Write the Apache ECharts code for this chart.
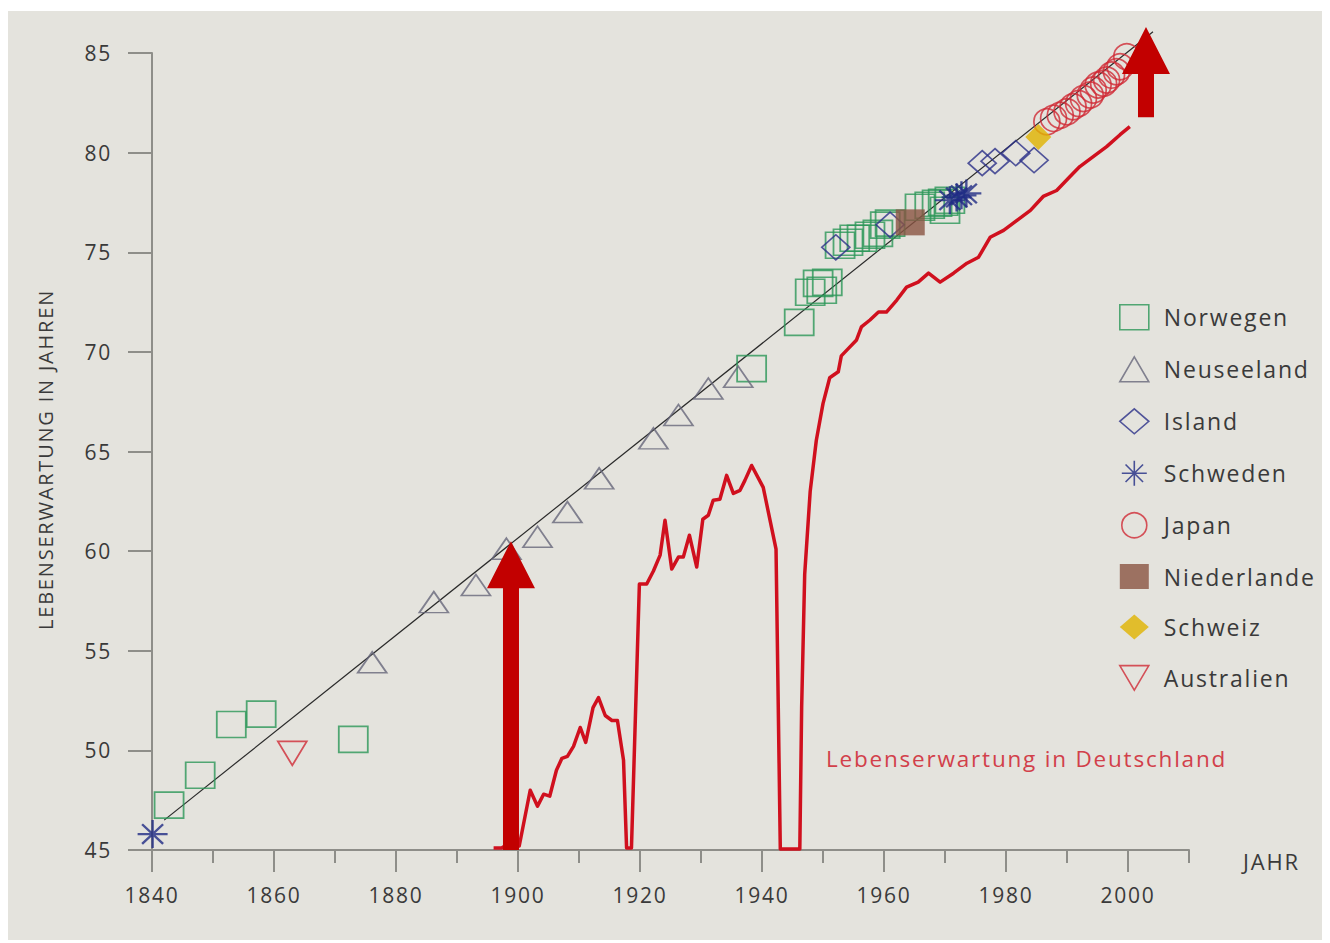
<!DOCTYPE html>
<html>
<head>
<meta charset="utf-8">
<script src="https://cdn.jsdelivr.net/npm/echarts@6/dist/echarts.min.js"></script>
<style>
  html, body { margin: 0; padding: 0; background: #ffffff; }
  #panel { position: absolute; left: 8px; top: 11px; width: 1314px; height: 929px; background: #e4e3dd; }
  #chart { position: absolute; left: 0; top: 0; width: 1330px; height: 943px; }
  #chart svg text { letter-spacing: 1.8px; }
</style>
</head>
<body>
<div id="panel"></div>
<div id="chart"></div>
<script>
// ---- Axis ticks / labels ----
const xMajorTicks = [1840, 1860, 1880, 1900, 1920, 1940, 1960, 1980, 2000];
const xMinorTicks = [1850, 1870, 1890, 1910, 1930, 1950, 1970, 1990, 2010];
const yTicks = [45, 50, 55, 60, 65, 70, 75, 80, 85];

// ---- Country record points (year, life expectancy) ----
const norwegenYears  = [1842.8, 1847.9, 1853.0, 1857.9, 1873.0, 1938.3, 1946.1, 1947.9, 1949.2, 1949.8, 1950.7, 1952.8, 1954.1, 1955.2, 1956.4, 1957.7, 1959.0, 1960.2, 1961.0, 1965.9, 1967.5, 1968.7, 1969.7, 1970.0, 1970.8];
const norwegenValues = [47.25, 48.75, 51.3, 51.82, 50.55, 69.16, 71.48, 72.99, 73.44, 73.09, 73.49, 75.35, 75.5, 75.7, 75.7, 75.85, 75.95, 76.36, 76.46, 77.26, 77.36, 77.46, 77.51, 77.11, 77.61];

const neuseelandYears  = [1876.1, 1886.2, 1893.1, 1898.1, 1903.2, 1908.1, 1913.3, 1922.2, 1926.3, 1931.2, 1936.1];
const neuseelandValues = [54.42, 57.44, 58.3, 60.12, 60.72, 61.96, 63.65, 65.66, 66.83, 68.16, 68.75];

const islandYears  = [1952.1, 1961.0, 1976.1, 1978.2, 1981.6, 1984.6];
const islandValues = [75.25, 76.38, 79.47, 79.57, 79.97, 79.62];

const schwedenYears  = [1840.1, 1970.8, 1971.9, 1972.7, 1973.5];
const schwedenValues = [45.8, 77.61, 77.75, 77.86, 77.95];

const japanYears  = [1986.7, 1987.8, 1988.9, 1990.0, 1991.0, 1991.9, 1992.7, 1993.8, 1994.3, 1995.1, 1996.0, 1996.5, 1997.3, 1998.1, 1998.7, 1999.8, 2000.3];
const japanValues = [81.55, 81.72, 81.88, 82.05, 82.3, 82.47, 82.72, 82.89, 83.14, 83.39, 83.48, 83.64, 83.89, 84.06, 84.31, 84.81, 85.15];

const niederlandeYears  = [1964.3];
const niederlandeValues = [76.5];

const schweizYears  = [1985.3];
const schweizValues = [80.78];

const australienYears  = [1863.0];
const australienValues = [49.85];

// ---- Trend line of record life expectancy ----
const trendYears  = [1842.0, 2004.1];
const trendValues = [46.5, 86.07];

// ---- Life expectancy in Germany ----
const deYears  = [1896.0, 1897.3, 1899.0, 1900.2, 1902.0, 1903.2, 1904.2, 1905.2, 1906.3, 1907.2, 1908.1, 1909.1, 1910.2, 1911.1, 1912.3, 1913.2, 1914.3, 1915.4, 1916.3, 1917.3, 1917.8, 1918.6, 1919.9, 1921.1, 1922.2, 1923.3, 1924.1, 1925.2, 1926.3, 1927.1, 1928.1, 1929.3, 1930.3, 1931.2, 1932.0, 1933.1, 1934.2, 1935.3, 1936.4, 1937.2, 1938.3, 1940.2, 1942.3, 1943.0, 1946.2, 1946.5, 1947.0, 1947.9, 1948.9, 1950.0, 1951.1, 1952.5, 1953.0, 1954.1, 1955.5, 1956.3, 1957.7, 1959.1, 1960.4, 1962.1, 1963.7, 1965.6, 1967.3, 1969.2, 1971.4, 1973.6, 1975.5, 1977.4, 1979.6, 1981.8, 1984.0, 1986.1, 1988.3, 1990.5, 1992.1, 1994.3, 1996.5, 1998.7, 2000.3];
const deValues = [45.1, 45.1, 45.4, 45.2, 48.0, 47.2, 47.8, 47.7, 49.0, 49.6, 49.7, 50.2, 51.15, 50.4, 52.15, 52.65, 51.75, 51.5, 51.5, 49.5, 45.1, 45.1, 58.35, 58.35, 59.0, 59.8, 61.55, 59.1, 59.7, 59.7, 60.8, 59.2, 61.6, 61.8, 62.55, 62.6, 63.8, 62.9, 63.05, 63.55, 64.3, 63.2, 60.1, 45.05, 45.05, 52.15, 58.85, 63.0, 65.55, 67.4, 68.7, 69.0, 69.8, 70.15, 70.6, 71.25, 71.6, 72.0, 72.0, 72.6, 73.25, 73.5, 73.95, 73.5, 73.95, 74.45, 74.75, 75.75, 76.1, 76.6, 77.1, 77.8, 78.1, 78.8, 79.3, 79.8, 80.3, 80.9, 81.3];

// ---- Arrows: year, base value, tip value ----
const arrowYears = [1898.85, 2002.95];
const arrowBase  = [45.0, 81.78];
const arrowTip   = [60.5, 86.31];

// ---- Texts ----
const yAxisTitle = 'LEBENSERWARTUNG IN JAHREN';
const xAxisTitle = 'JAHR';
const germanyLabel = 'Lebenserwartung in Deutschland';

function pairs(xs, ys) { return xs.map((x, i) => [x, ys[i]]); }

const FONT = "'Open Sans', 'Noto Sans', sans-serif";
const AXIS_COLOR = '#8e8e89';
const TEXT_COLOR = '#3a3a3a';

const asterisk = 'path://M10,0 L10,20 M0,10 L20,10 M3,3 L17,17 M3,17 L17,3';
const downTri = 'path://M0,0 L20,0 L10,17 Z';

function hollow(color, w) {
  return { color: 'rgba(0,0,0,0)', borderColor: color, borderWidth: w || 1.6 };
}

const chart = echarts.init(document.getElementById('chart'), null, { renderer: 'svg' });

const option = {
  animation: false,
  backgroundColor: 'transparent',
  textStyle: { fontFamily: FONT },
  grid: [
    { left: 152, right: 141, top: 53, bottom: 93, containLabel: false },
    { left: 152, right: 141, top: 53, bottom: 93, containLabel: false }
  ],
  xAxis: [
    {
      type: 'value', gridIndex: 0, min: 1840, max: 2010,
      axisLine: { show: true, lineStyle: { color: AXIS_COLOR, width: 2 } },
      axisTick: { show: true, length: 13, lineStyle: { color: AXIS_COLOR, width: 2 }, customValues: xMinorTicks },
      axisLabel: { show: false },
      splitLine: { show: false },
      name: xAxisTitle, nameLocation: 'end', nameGap: 54,
      nameTextStyle: { color: TEXT_COLOR, fontSize: 22, fontFamily: FONT, verticalAlign: 'top' }
    },
    {
      type: 'value', gridIndex: 1, min: 1840, max: 2010,
      axisLine: { show: false },
      axisTick: { show: true, length: 22, lineStyle: { color: AXIS_COLOR, width: 2 }, customValues: xMajorTicks },
      axisLabel: { show: true, customValues: xMajorTicks, margin: 34, color: TEXT_COLOR, fontSize: 21, fontFamily: FONT,
                   formatter: function (v) { return String(v); } },
      splitLine: { show: false }
    }
  ],
  yAxis: [
    {
      type: 'value', gridIndex: 0, min: 45, max: 85, interval: 5,
      axisLine: { show: true, lineStyle: { color: AXIS_COLOR, width: 2 } },
      axisTick: { show: true, length: 24, lineStyle: { color: AXIS_COLOR, width: 2 }, customValues: yTicks },
      axisLabel: { show: true, customValues: yTicks, margin: 40, color: TEXT_COLOR, fontSize: 21, fontFamily: FONT,
                   formatter: function (v) { return String(v); } },
      splitLine: { show: false },
      name: yAxisTitle, nameLocation: 'middle', nameGap: 97,
      nameTextStyle: { color: TEXT_COLOR, fontSize: 20, fontFamily: FONT, padding: [0, 16, 0, 0] }
    },
    { type: 'value', gridIndex: 1, min: 45, max: 85, show: false }
  ],
  legend: {
    orient: 'vertical', left: 1114, top: 299,
    itemWidth: 29, itemHeight: 25, itemGap: 25.4,
    textStyle: { color: TEXT_COLOR, fontSize: 23, fontFamily: FONT, padding: [0, 0, 0, 10] },
    itemStyle: { borderWidth: 1.6 },
    data: ['Norwegen', 'Neuseeland', 'Island', 'Schweden', 'Japan', 'Niederlande', 'Schweiz', 'Australien'],
    selectedMode: false
  },
  graphic: [
    {
      type: 'text', left: 826, top: 747, silent: true,
      style: { text: germanyLabel, fill: '#d2404a', font: "22.5px 'Open Sans', sans-serif" }
    }
  ],
  series: [
    {
      name: 'Deutschland', type: 'line', xAxisIndex: 0, yAxisIndex: 0,
      data: pairs(deYears, deValues), symbol: 'none', clip: false, silent: true, z: 2,
      lineStyle: { color: '#d0101e', width: 3.5, join: 'round' }
    },
    {
      name: 'Trend', type: 'line', xAxisIndex: 0, yAxisIndex: 0,
      data: pairs(trendYears, trendValues), symbol: 'none', clip: false, silent: true, z: 3,
      lineStyle: { color: '#2a2a2a', width: 1.2 }
    },
    {
      name: 'Norwegen', type: 'scatter', data: pairs(norwegenYears, norwegenValues),
      symbol: 'rect', symbolSize: [29, 26], itemStyle: hollow('#2b9657', 1.7), silent: true, z: 4
    },
    {
      name: 'Neuseeland', type: 'scatter', data: pairs(neuseelandYears, neuseelandValues),
      symbol: 'triangle', symbolSize: [29, 21], itemStyle: hollow('#66667a', 1.7), silent: true, z: 4
    },
    {
      name: 'Island', type: 'scatter', data: pairs(islandYears, islandValues),
      symbol: 'diamond', symbolSize: [28, 25], itemStyle: hollow('#2a2f88', 1.7), silent: true, z: 4
    },
    {
      name: 'Schweden', type: 'scatter', data: pairs(schwedenYears, schwedenValues),
      symbol: asterisk, symbolSize: [30, 28], itemStyle: hollow('#1f2a85', 2.3), silent: true, z: 5
    },
    {
      name: 'Japan', type: 'scatter', data: pairs(japanYears, japanValues),
      symbol: 'circle', symbolSize: 26, itemStyle: hollow('#cf2b36', 1.7), silent: true, z: 4
    },
    {
      name: 'Niederlande', type: 'scatter', data: pairs(niederlandeYears, niederlandeValues),
      symbol: 'rect', symbolSize: [29, 26], itemStyle: { color: '#8a5442' }, silent: true, z: 5
    },
    {
      name: 'Schweiz', type: 'scatter', data: pairs(schweizYears, schweizValues),
      symbol: 'diamond', symbolSize: [26, 26], itemStyle: { color: '#e0b300' }, silent: true, z: 5
    },
    {
      name: 'Australien', type: 'scatter', data: pairs(australienYears, australienValues),
      symbol: downTri, symbolSize: [29, 24], itemStyle: hollow('#cf2b36', 1.7), silent: true, z: 4
    },
    {
      name: 'Pfeile', type: 'custom', xAxisIndex: 0, yAxisIndex: 0, clip: false, silent: true, z: 10,
      data: arrowYears.map((x, i) => [x, arrowBase[i], arrowTip[i]]),
      encode: { x: 0, y: [1, 2] },
      renderItem: function (params, api) {
        const p0 = api.coord([api.value(0), api.value(1)]);
        const p1 = api.coord([api.value(0), api.value(2)]);
        const cx = p0[0];
        const shaftHalf = 8, headHalf = 24, headH = 47;
        const hb = p1[1] + headH;
        return {
          type: 'polygon',
          shape: { points: [
            [cx - shaftHalf, p0[1]], [cx - shaftHalf, hb], [cx - headHalf, hb],
            [cx, p1[1]], [cx + headHalf, hb], [cx + shaftHalf, hb], [cx + shaftHalf, p0[1]]
          ] },
          style: { fill: '#c20000' }
        };
      }
    }
  ]
};

chart.setOption(option);
</script>
</body>
</html>
